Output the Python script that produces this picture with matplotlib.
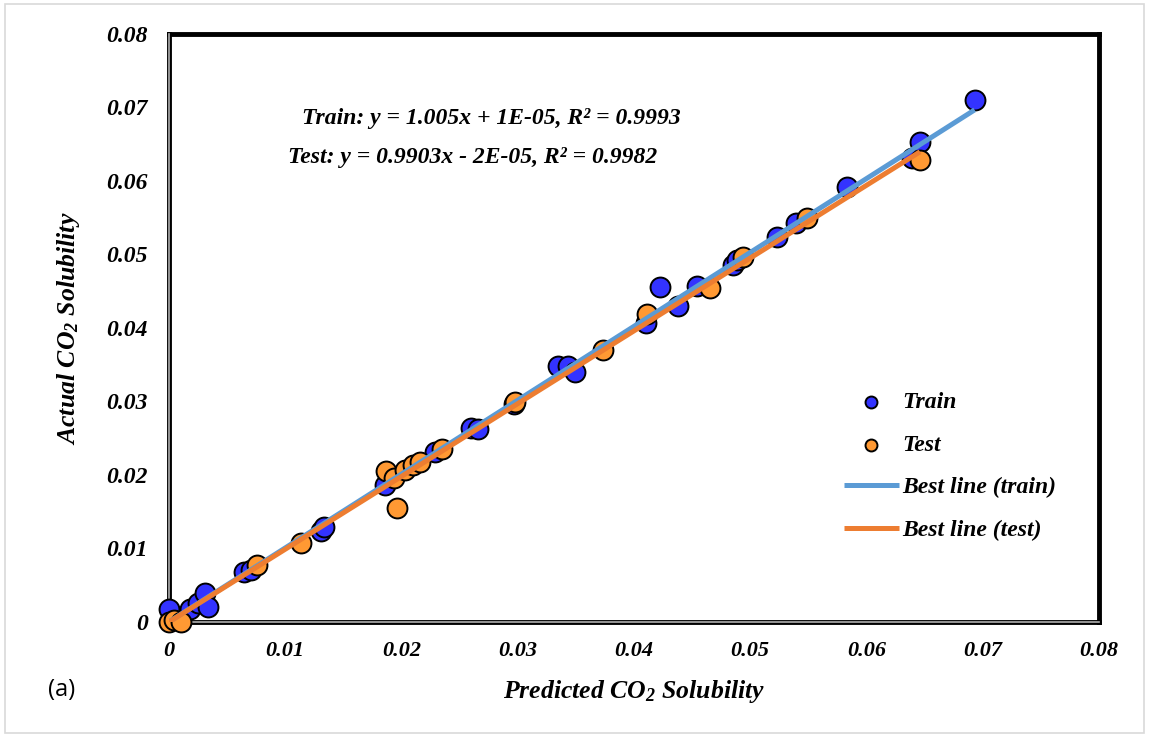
import matplotlib
matplotlib.use("Agg")
import matplotlib.pyplot as plt
import numpy as np
from matplotlib.lines import Line2D
from matplotlib.patches import Rectangle
from matplotlib.ticker import FuncFormatter

plt.rcParams["font.family"] = ["Liberation Serif", "DejaVu Serif"]
plt.rcParams["mathtext.fontset"] = "custom"
plt.rcParams["mathtext.rm"] = "Liberation Serif:italic:bold"
plt.rcParams["mathtext.it"] = "Liberation Serif:italic:bold"
plt.rcParams["mathtext.bf"] = "Liberation Serif:italic:bold"

# values
train_pred = [0.0, 0.0018, 0.0025, 0.0031, 0.0034, 0.0065, 0.0071, 0.0131, 0.0133,
              0.0186, 0.0229, 0.0260, 0.0266, 0.0297, 0.0335, 0.0343, 0.0349, 0.0410,
              0.0422, 0.0438, 0.0454, 0.0485, 0.0489, 0.0523, 0.0539, 0.0583, 0.0639,
              0.0646, 0.0693]
train_act = [0.0018, 0.0018, 0.0026, 0.0040, 0.0020, 0.0068, 0.0071, 0.0124, 0.0129,
             0.0186, 0.0231, 0.0264, 0.0263, 0.0297, 0.0348, 0.0348, 0.0340, 0.0407,
             0.0456, 0.0430, 0.0457, 0.0486, 0.0493, 0.0524, 0.0543, 0.0592, 0.0631,
             0.0653, 0.0710]
test_pred = [0.0, 0.0004, 0.0010, 0.0076, 0.0114, 0.0187, 0.0194, 0.0196, 0.0203,
             0.0210, 0.0216, 0.0235, 0.0298, 0.0373, 0.0411, 0.0465, 0.0494, 0.0549,
             0.0646]
test_act = [0.0, 0.0002, 0.0, 0.0078, 0.0108, 0.0205, 0.0196, 0.0155, 0.0207,
            0.0214, 0.0218, 0.0235, 0.0299, 0.0370, 0.0419, 0.0454, 0.0497, 0.0550,
            0.0629]

train_fit = (1.005, 1e-05)
test_fit = (0.9903, -2e-05)
ticks = [0, 0.01, 0.02, 0.03, 0.04, 0.05, 0.06, 0.07, 0.08]

bi = {"fontstyle": "italic", "fontweight": "bold"}

fig = plt.figure(figsize=(11.49, 7.36), dpi=100)
fig.patches.append(Rectangle((0.004, 0.004), 0.992, 0.99, transform=fig.transFigure,
                             fill=False, edgecolor="#d9d9d9", linewidth=1.2))
ax = fig.add_axes([0.147, 0.155, 0.8095, 0.799])

ax.scatter(train_pred, train_act, s=205, color="#3333ff", edgecolor="black",
           linewidth=1.4, label="Train", zorder=3, clip_on=False)
ax.scatter(test_pred, test_act, s=205, color="#ff9933", edgecolor="black",
           linewidth=1.4, label="Test", zorder=3, clip_on=False)

xt = np.array([0, max(train_pred)])
ax.plot(xt, train_fit[0] * xt + train_fit[1], color="#5b9bd5", linewidth=3.6,
        label="Best line (train)", zorder=4, solid_capstyle="butt")
xs = np.array([0, max(test_pred)])
ax.plot(xs, test_fit[0] * xs + test_fit[1], color="#ed7d31", linewidth=3.6,
        label="Best line (test)", zorder=4, solid_capstyle="butt")

ax.set_xlim(0, 0.08)
ax.set_ylim(0, 0.08)
ax.set_xticks(ticks)
ax.set_yticks(ticks)
fmt = FuncFormatter(lambda v, p: "0" if v == 0 else f"{v:.2f}")
ax.xaxis.set_major_formatter(fmt)
ax.yaxis.set_major_formatter(fmt)
ax.tick_params(axis="both", length=0)
ax.tick_params(axis="x", pad=14, labelsize=16)
ax.tick_params(axis="y", pad=15, labelsize=17)
for lab in ax.get_xticklabels() + ax.get_yticklabels():
    lab.set_fontstyle("italic")
    lab.set_fontweight("bold")

for side in ["top", "right", "left", "bottom"]:
    ax.spines[side].set_linewidth(3.5)
    ax.spines[side].set_color("black")
    ax.spines[side].set_zorder(2)
ax.add_line(Line2D([0, 0], [0, 1], transform=ax.transAxes, color="#b0b0b0",
                   linewidth=1.2, zorder=2.5, clip_on=False))
ax.add_line(Line2D([0, 1], [0, 0], transform=ax.transAxes, color="#b0b0b0",
                   linewidth=1.2, zorder=2.5, clip_on=False))

ax.set_xlabel("Predicted CO$_2$ Solubility", fontsize=18.5, labelpad=12, **bi)
ax.set_ylabel("Actual CO$_2$ Solubility", fontsize=18.5, labelpad=18, **bi)

ax.text(0.143, 0.856, "Train: y = 1.005x + 1E-05, R² = 0.9993", transform=ax.transAxes,
        fontsize=17, va="center", **bi)
ax.text(0.128, 0.789, "Test: y = 0.9903x - 2E-05, R² = 0.9982", transform=ax.transAxes,
        fontsize=17, va="center", **bi)

ax.legend(loc="upper left", bbox_to_anchor=(0.716, 0.408), frameon=False,
          prop={"size": 17, "style": "italic", "weight": "bold"},
          markerscale=0.6, handlelength=2.3, handletextpad=0.15, labelspacing=0.9,
          borderaxespad=0)

fig.text(0.042, 0.062, "(a)", fontsize=17, family="Open Sans", va="center")

fig.savefig("out.png", dpi=100)
